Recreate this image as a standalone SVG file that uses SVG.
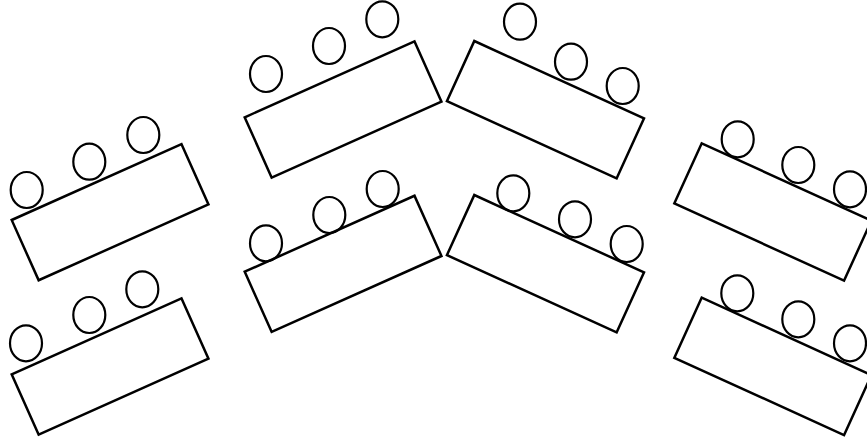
<svg xmlns="http://www.w3.org/2000/svg" width="867" height="441" viewBox="0 0 867 441">
<style>
.table{fill:none;stroke:#000;stroke-width:2.5}
.chair{fill:none;stroke:#000;stroke-width:2.2}
</style>
<rect width="867" height="441" fill="#fff"/>
<g id="table-left-top">
<rect class="table" x="0" y="0" width="186" height="66" transform="translate(11.7,220) rotate(-24.1)"/>
<ellipse class="chair" cx="26.7" cy="190" rx="16" ry="18"/>
<ellipse class="chair" cx="89.3" cy="161.7" rx="16" ry="18"/>
<ellipse class="chair" cx="143.3" cy="135" rx="16" ry="18"/>
</g>
<g id="table-left-bottom">
<rect class="table" x="0" y="0" width="186" height="66" transform="translate(11.7,374.3) rotate(-24.1)"/>
<ellipse class="chair" cx="26" cy="343.3" rx="16" ry="18"/>
<ellipse class="chair" cx="89.3" cy="315" rx="16" ry="18"/>
<ellipse class="chair" cx="142.3" cy="289.3" rx="16" ry="18"/>
</g>
<g id="table-center-left-top">
<rect class="table" x="0" y="0" width="186" height="66" transform="translate(244.7,117.3) rotate(-24.1)"/>
<ellipse class="chair" cx="266" cy="74" rx="16" ry="18"/>
<ellipse class="chair" cx="329" cy="46" rx="16" ry="18"/>
<ellipse class="chair" cx="382.3" cy="19.3" rx="16" ry="18"/>
</g>
<g id="table-center-left-bottom">
<rect class="table" x="0" y="0" width="186" height="66" transform="translate(244.7,271.7) rotate(-24.1)"/>
<ellipse class="chair" cx="266" cy="243.3" rx="16" ry="18"/>
<ellipse class="chair" cx="329.3" cy="215" rx="16" ry="18"/>
<ellipse class="chair" cx="382.7" cy="189" rx="16" ry="18"/>
</g>
<g id="table-center-right-top">
<rect class="table" x="0" y="0" width="186.5" height="66" transform="translate(474.3,41) rotate(24.5)"/>
<ellipse class="chair" cx="520" cy="21.7" rx="16" ry="18"/>
<ellipse class="chair" cx="571" cy="61.7" rx="16" ry="18"/>
<ellipse class="chair" cx="622.7" cy="86" rx="16" ry="18"/>
</g>
<g id="table-center-right-bottom">
<rect class="table" x="0" y="0" width="186.5" height="66" transform="translate(474.3,195) rotate(24.5)"/>
<ellipse class="chair" cx="513.3" cy="193.3" rx="16" ry="18"/>
<ellipse class="chair" cx="575" cy="219.3" rx="16" ry="18"/>
<ellipse class="chair" cx="626.7" cy="244" rx="16" ry="18"/>
</g>
<g id="table-right-top">
<rect class="table" x="0" y="0" width="186.5" height="66" transform="translate(701.7,143.3) rotate(24.5)"/>
<ellipse class="chair" cx="737.7" cy="139.3" rx="16" ry="18"/>
<ellipse class="chair" cx="798.3" cy="165" rx="16" ry="18"/>
<ellipse class="chair" cx="850" cy="189.3" rx="16" ry="18"/>
</g>
<g id="table-right-bottom">
<rect class="table" x="0" y="0" width="186.5" height="66" transform="translate(701.7,297.7) rotate(24.5)"/>
<ellipse class="chair" cx="737.3" cy="293.3" rx="16" ry="18"/>
<ellipse class="chair" cx="798.3" cy="319.3" rx="16" ry="18"/>
<ellipse class="chair" cx="850" cy="343.3" rx="16" ry="18"/>
</g>
</svg>
